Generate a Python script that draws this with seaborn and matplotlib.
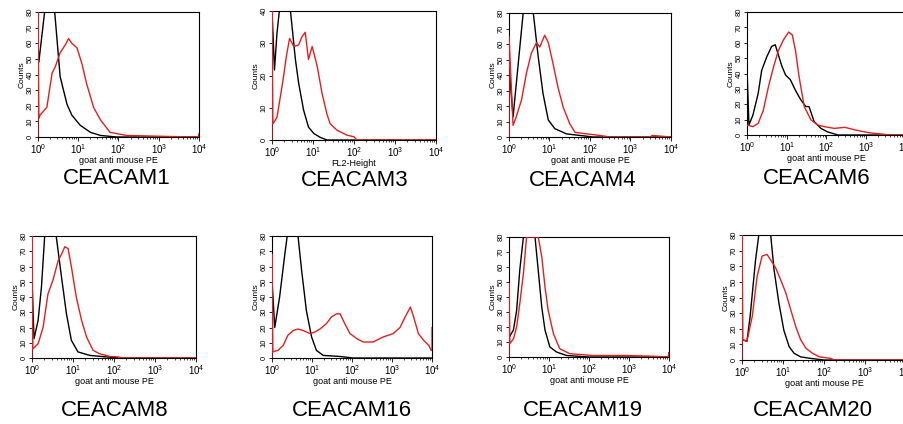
import numpy as np
import pandas as pd
import seaborn as sns
import matplotlib
import matplotlib.pyplot as plt
from matplotlib.ticker import LogLocator, LogFormatterMathtext

sns.set_style('white')
plt.rcParams['font.family'] = ['Liberation Sans', 'DejaVu Sans']
plt.rcParams['mathtext.fontset'] = 'custom'
plt.rcParams['mathtext.rm'] = 'Liberation Sans'
plt.rcParams['axes.edgecolor'] = 'black'
plt.rcParams['text.color'] = 'black'
plt.rcParams['axes.labelcolor'] = 'black'
plt.rcParams['xtick.color'] = 'black'
plt.rcParams['ytick.color'] = 'black'

# ---- data (fluorescence, counts) ----
# isotype control = black, CEACAM antibody = red
c1_iso_x = [1, 1, 1.05, 1.46, 2.6, 3.55, 5.25, 6.92, 11.2, 20, 35.5, 91, 10000]
c1_iso_y = [0, 60, 48, 80, 80, 38.6, 21, 14, 7.5, 3, 1, 0, 0]
c1_ab_x = [1, 1, 1.05, 1.12, 1.66, 2.24, 2.69, 3.55, 4.79, 5.75, 6.92, 9.33, 12.3, 16.2, 24, 35.5, 61.7, 158, 2000, 9550, 10000, 10000]
c1_ab_y = [0, 80, 12, 14, 19, 41, 45, 54, 59, 63, 60, 57, 47, 34, 19, 11, 3, 1, 0.3, 0, 2, 0]

c3_iso_x = [1, 1, 1.15, 1.32, 1.51, 2.82, 3.72, 4.47, 5.89, 7.76, 10.5, 15.1, 21.9, 10000]
c3_iso_y = [0, 40, 21.7, 33, 40, 40, 25, 17.6, 9.3, 4, 2, 0.8, 0, 0]
c3_ab_x = [1, 1, 1.05, 1.32, 1.58, 1.91, 2.24, 2.69, 3.39, 4.47, 5.37, 6.46, 7.76, 9.55, 12.6, 16.6, 21.9, 26.3, 38.9, 56.2, 67.6, 100, 117, 10000]
c3_ab_y = [0, 40, 5, 7, 13, 19.6, 26, 31.5, 29, 29.5, 32, 33.4, 25, 29, 23, 14.5, 8, 5, 3, 2, 1.5, 1, 0, 0]

c4_iso_x = [1, 1, 1.26, 1.51, 1.82, 2.24, 3.98, 5.25, 6.92, 9.33, 13.5, 26.3, 56.2, 120, 10000]
c4_iso_y = [0, 46, 13, 34, 56, 80, 80, 52, 28, 11, 5.4, 2, 1, 0, 0]
c4_ab_x = [1, 1, 1.26, 1.51, 2.04, 2.69, 3.55, 4.79, 5.75, 7.59, 9.33, 12.3, 16.2, 21.9, 31.6, 42.7, 83.2, 178, 300, 3162, 3400, 10000]
c4_ab_y = [0, 65, 7.5, 13, 24, 41, 54, 61, 58, 65.6, 61, 47, 32, 19, 8.6, 3, 2, 1, 0, 0, 1, 0]

c6_iso_x = [1, 1, 1.12, 1.41, 1.91, 2.34, 3.16, 4.17, 5.13, 6.17, 7.59, 9.33, 12.3, 16.6, 22.4, 30.2, 36.3, 49, 72.4, 107, 195, 10000]
c6_iso_y = [0, 43, 6.5, 13, 27, 42, 51, 57.6, 58.7, 52, 44.6, 39, 36, 29, 23, 18.5, 18.5, 8.7, 4.3, 2, 0, 0]
c6_ab_x = [1, 1.41, 1.91, 2.57, 3.47, 4.68, 6.17, 8.32, 11.2, 13.8, 16.6, 20.4, 27.5, 40.7, 60.3, 89.1, 158, 288, 525, 1148, 2512, 4000, 10000]
c6_ab_y = [6.5, 5.4, 7.6, 16, 31.5, 44.6, 55, 62, 67, 65, 55, 38, 18.5, 9.8, 6.5, 5.4, 4.3, 5, 3.3, 1.5, 0.6, 0, 0]

c8_iso_x = [1, 1, 1.12, 1.41, 1.70, 2.04, 3.89, 5.25, 6.92, 9.12, 13.2, 25.7, 66.1, 130, 10000]
c8_iso_y = [0, 51, 12.7, 24.7, 46.5, 80, 80, 53, 29, 11.6, 4, 1.7, 0.7, 0, 0]
c8_ab_x = [1, 1, 1.05, 1.41, 1.86, 2.45, 3.24, 4.37, 5.25, 6.31, 7.59, 9.12, 12.0, 16.2, 21.4, 30.9, 44.7, 79.4, 126, 160, 10000]
c8_ab_y = [0, 80, 6, 9.4, 20, 42, 51, 64, 68, 73, 71.7, 60, 40, 24.7, 13.8, 5, 2.8, 1, 0.7, 0, 0]

c16_iso_x = [1, 1, 1.17, 1.55, 2.09, 2.40, 4.47, 5.50, 7.24, 9.77, 12.9, 19.1, 50.1, 107, 10000]
c16_iso_y = [0, 51, 20, 40, 68, 80, 80, 57.5, 31, 13.8, 5, 1.7, 1, 0, 0]
c16_ab_x = [1, 1, 1.05, 1.41, 1.91, 2.51, 3.39, 4.47, 6.03, 8.91, 11.7, 15.8, 22.9, 30.9, 41.7, 50.1, 66.1, 89.1, 132, 191, 339, 603, 1072, 1585, 2138, 2884, 3467, 4571, 6166, 8318, 9550, 10000, 10000]
c16_ab_y = [0, 68, 4, 5, 8.3, 15, 18, 19, 18, 16, 17, 19, 22.5, 27, 29, 29, 22.5, 16, 12.7, 10.5, 10.5, 13.8, 16, 20, 27, 33.4, 27, 16, 11.6, 8.3, 5, 5, 20]

c19_iso_x = [1, 1.29, 1.55, 1.86, 2.29, 4.47, 5.37, 6.61, 7.94, 10.5, 15.5, 27.5, 100, 10000]
c19_iso_y = [13, 18, 31, 58, 80, 80, 58, 33, 18, 6.7, 3.3, 1, 0, 0]
c19_ab_x = [1, 1, 1.05, 1.29, 1.55, 1.86, 2.29, 2.75, 5.37, 6.61, 7.94, 9.55, 12.9, 18.6, 33.1, 126, 871, 4000, 9550, 10000, 10000]
c19_ab_y = [0, 49, 9, 12, 20, 35.5, 55.5, 80, 80, 66.7, 46.7, 31, 15.5, 5.5, 2.2, 1, 1, 0.5, 0, 3, 0]

c20_iso_x = [1, 1, 1.32, 1.58, 2.14, 2.57, 5.01, 6.03, 7.94, 10.5, 14.1, 18.6, 26.9, 47.9, 100, 10000]
c20_iso_y = [0, 13, 12, 28, 64, 80, 80, 58, 36.5, 19, 8.6, 4.3, 2, 1, 0, 0]
c20_ab_x = [1, 1, 1.05, 1.32, 1.78, 2.34, 3.09, 4.07, 5.01, 6.61, 8.71, 11.7, 15.5, 20.4, 26.9, 36.3, 52.5, 77.6, 148, 180, 10000]
c20_ab_y = [0, 80, 13, 12, 28, 53.6, 66.5, 67.6, 64, 59, 51.5, 43, 32, 21.5, 13, 7.5, 4.3, 2, 1, 0, 0]

names = ['CEACAM1', 'CEACAM3', 'CEACAM4', 'CEACAM6',
         'CEACAM8', 'CEACAM16', 'CEACAM19', 'CEACAM20']
xlabels = ['goat anti mouse PE', 'FL2-Height', 'goat anti mouse PE', 'goat anti mouse PE',
           'goat anti mouse PE', 'goat anti mouse PE', 'goat anti mouse PE', 'goat anti mouse PE']
ymaxes = [80, 40, 80, 80, 80, 80, 80, 80]

curves = [(c1_iso_x, c1_iso_y, c1_ab_x, c1_ab_y),
          (c3_iso_x, c3_iso_y, c3_ab_x, c3_ab_y),
          (c4_iso_x, c4_iso_y, c4_ab_x, c4_ab_y),
          (c6_iso_x, c6_iso_y, c6_ab_x, c6_ab_y),
          (c8_iso_x, c8_iso_y, c8_ab_x, c8_ab_y),
          (c16_iso_x, c16_iso_y, c16_ab_x, c16_ab_y),
          (c19_iso_x, c19_iso_y, c19_ab_x, c19_ab_y),
          (c20_iso_x, c20_iso_y, c20_ab_x, c20_ab_y)]

# panel boxes in pixels (left, top, right, bottom) and title centres
W, H = 904, 424
boxes = [(38, 12, 199, 137), (272, 11, 436, 140), (509, 13, 671, 137), (747, 12, 906, 135),
         (32, 236, 196, 358), (272, 236, 432, 358), (509, 237, 669, 357), (742, 235, 906, 360)]
title_pos = [(117, 179), (355, 181), (583, 181), (817, 179),
             (115, 411), (352, 411), (583, 411), (813, 411)]

palette = {'isotype': 'black', 'antibody': '#e02020'}

fig = plt.figure(figsize=(W / 100, H / 100), dpi=100)

for i in range(8):
    l, t, r, b = boxes[i]
    ax = fig.add_axes([l / W, 1 - b / H, (r - l) / W, (b - t) / H])

    ix, iy, ax_, ay = curves[i]
    df = pd.concat([pd.DataFrame({'x': ix, 'y': iy, 'sample': 'isotype'}),
                    pd.DataFrame({'x': ax_, 'y': ay, 'sample': 'antibody'})],
                   ignore_index=True)
    sns.lineplot(data=df, x='x', y='y', hue='sample', palette=palette,
                 estimator=None, sort=False, legend=False, linewidth=1.0,
                 zorder=3, ax=ax)

    ax.set_xscale('log')
    ax.set_xlim(1, 1e4)
    ax.set_ylim(0, ymaxes[i])
    ax.set_yticks(range(0, ymaxes[i] + 1, 10))
    ax.xaxis.set_major_locator(LogLocator(base=10))
    ax.xaxis.set_major_formatter(LogFormatterMathtext())
    ax.xaxis.set_minor_locator(LogLocator(base=10, subs=np.arange(2, 10)))

    ax.tick_params(axis='y', labelsize=5.5, length=2, width=0.6, pad=1,
                   labelrotation=90, left=True)
    for lab in ax.get_yticklabels():
        lab.set_va('center')
    ax.tick_params(axis='x', which='major', labelsize=7, length=3, width=0.6,
                   pad=1, bottom=True)
    ax.tick_params(axis='x', which='minor', length=1.5, width=0.5, bottom=True)

    ax.set_xlabel(xlabels[i], fontsize=6.5, labelpad=0)
    ax.set_ylabel('Counts', fontsize=6, labelpad=1)
    for s in ax.spines.values():
        s.set_visible(True)
        s.set_linewidth(0.8)
        s.set_color('black')

    cx, cy = title_pos[i]
    fig.text(cx / W, 1 - cy / H, names[i], ha='center', va='center', fontsize=16)

fig.savefig('out.png', dpi=100)
